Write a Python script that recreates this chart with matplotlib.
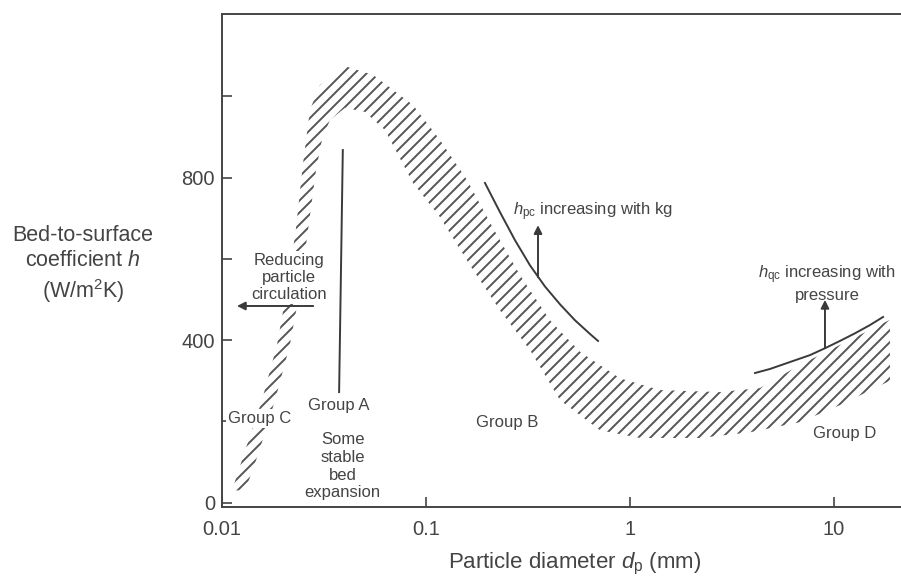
import numpy as np
import matplotlib.pyplot as plt
from matplotlib.collections import LineCollection

plt.rcParams['font.family'] = 'Liberation Sans'
plt.rcParams['mathtext.fontset'] = 'custom'
plt.rcParams['mathtext.rm'] = 'Liberation Sans'
plt.rcParams['mathtext.it'] = 'Liberation Sans:italic'

INK = '#3a3a3a'

# hatched band: outer (upper-left) edge and inner (lower-right) edge
outer_d = [0.0112, 0.013, 0.0157, 0.0186, 0.0208, 0.0230, 0.0249, 0.0270, 0.0302,
           0.0410, 0.0550, 0.0863, 0.117, 0.159, 0.213, 0.289, 0.405, 0.569,
           0.893, 1.40, 2.76, 4.34, 6.81, 10.7, 18.8]
outer_h = [30, 129, 252, 388, 523, 671, 831, 967, 1028,
           1073, 1053, 979, 893, 794, 676, 560, 449, 371,
           306, 277, 272, 282, 339, 388, 450]
inner_d = [0.013, 0.0150, 0.0182, 0.0215, 0.0241, 0.0264, 0.0289, 0.0309, 0.0338,
           0.0401, 0.0502, 0.0630, 0.0863, 0.117, 0.164, 0.230, 0.324, 0.454,
           0.713, 1.12, 2.20, 3.87, 6.81, 10.7, 18.8]
inner_h = [30, 117, 252, 388, 523, 671, 819, 893, 942,
           972, 962, 917, 787, 703, 585, 474, 375, 252,
           178, 159, 159, 173, 198, 240, 300]

# h_pc and h_qc curves
hpc_d = [0.1945, 0.2305, 0.273, 0.3235, 0.383, 0.454, 0.537, 0.637, 0.697]
hpc_h = [787, 715, 646, 584, 532, 488, 449, 415, 398]
hqc_d = [4.10, 4.86, 6.08, 7.62, 9.03, 10.7, 12.7, 15.0, 17.4]
hqc_h = [319, 329, 346, 363, 380, 398, 417, 437, 457]

# Group A boundary line
groupA_d = [0.0391, 0.0375]
groupA_h = [868, 272]

fig = plt.figure(figsize=(9.01, 5.78), dpi=100)
ax = fig.add_axes([0.2464, 0.1228, 0.7536, 0.853])
ax.set_xscale('log')
ax.set_xlim(0.01, 21.3)
ax.set_ylim(-11, 1203)

# band outline (invisible) used as clip region for the hatch strokes
band_x = outer_d + inner_d[::-1]
band_y = outer_h + inner_h[::-1]
band = ax.fill(band_x, band_y, facecolor='none', edgecolor='none', linewidth=0)[0]

# 45 degree hatch strokes, ~12 px apart, drawn in axes fraction coords
w_px = 0.7536 * 901
h_px = 0.853 * 578
step = 12.0
segs = []
for c in np.arange(-h_px, w_px, step):
    segs.append([(c / w_px, 0), ((c + h_px) / w_px, 1)])
hatch = LineCollection(segs, colors='#555555', linewidths=1.4, transform=ax.transAxes)
ax.add_collection(hatch)
hatch.set_clip_path(band)

ax.plot(hpc_d, hpc_h, color=INK, lw=1.4)
ax.plot(hqc_d, hqc_h, color=INK, lw=1.4)
ax.plot(groupA_d, groupA_h, color=INK, lw=1.4)

arrow = dict(arrowstyle='-|>', color=INK, lw=1.4, mutation_scale=12, shrinkA=0, shrinkB=0)
ax.annotate('', xy=(0.354, 683), xytext=(0.354, 555), arrowprops=arrow)
ax.annotate('', xy=(9.03, 499), xytext=(9.03, 380), arrowprops=arrow)
ax.annotate('', xy=(0.01184, 484), xytext=(0.0280, 484), arrowprops=arrow)

txt = dict(color='#444444', fontsize=12)
white = dict(facecolor='white', edgecolor='none', pad=1.5)
ax.text(0.0153, 208, 'Group C', ha='center', va='center', bbox=white, zorder=2, **txt)
ax.text(0.0375, 240, 'Group A', ha='center', va='center', bbox=white, **txt)
ax.text(0.0391, 89, 'Some\nstable\nbed\nexpansion', ha='center', va='center',
        linespacing=1.22, **txt)
ax.text(0.249, 196, 'Group B', ha='center', va='center', **txt)
ax.text(11.3, 171, 'Group D', ha='center', va='center', **txt)
ax.text(0.0213, 555, 'Reducing\nparticle\ncirculation', ha='center', va='center',
        linespacing=1.17, bbox=white, **txt)
ax.text(0.267, 715, r'$h_\mathrm{pc}$ increasing with kg', ha='left', va='center', **txt)
ax.text(9.25, 540, '$h_\\mathrm{qc}$ increasing with\npressure', ha='center', va='center',
        linespacing=1.2, **txt)

ax.spines['right'].set_visible(False)
for s in ['left', 'bottom', 'top']:
    ax.spines[s].set_color('#444444')
    ax.spines[s].set_linewidth(1.4)

ax.set_xticks([0.01, 0.1, 1, 10])
ax.set_xticklabels(['0.01', '0.1', '1', '10'])
ax.xaxis.set_minor_locator(plt.NullLocator())
ax.set_yticks([0, 200, 400, 600, 800, 1000])
ax.set_yticklabels(['0', '', '400', '', '800', ''])
ax.tick_params(direction='in', length=7, width=1.2, color='#444444',
               labelsize=14.5, labelcolor='#444444')
ax.tick_params(axis='x', pad=9)
ax.tick_params(axis='y', pad=5)

ax.set_xlabel(r'Particle diameter $d_\mathrm{p}$ (mm)', fontsize=16, color='#444444')
ax.xaxis.set_label_coords(0.52, -0.088)
fig.text(83 / 901, 1 - 265 / 578, 'Bed-to-surface\ncoefficient $h$\n(W/m$^2$K)',
         ha='center', va='center', fontsize=15.5, color='#444444', linespacing=1.25)

fig.savefig('out.png', dpi=100)
